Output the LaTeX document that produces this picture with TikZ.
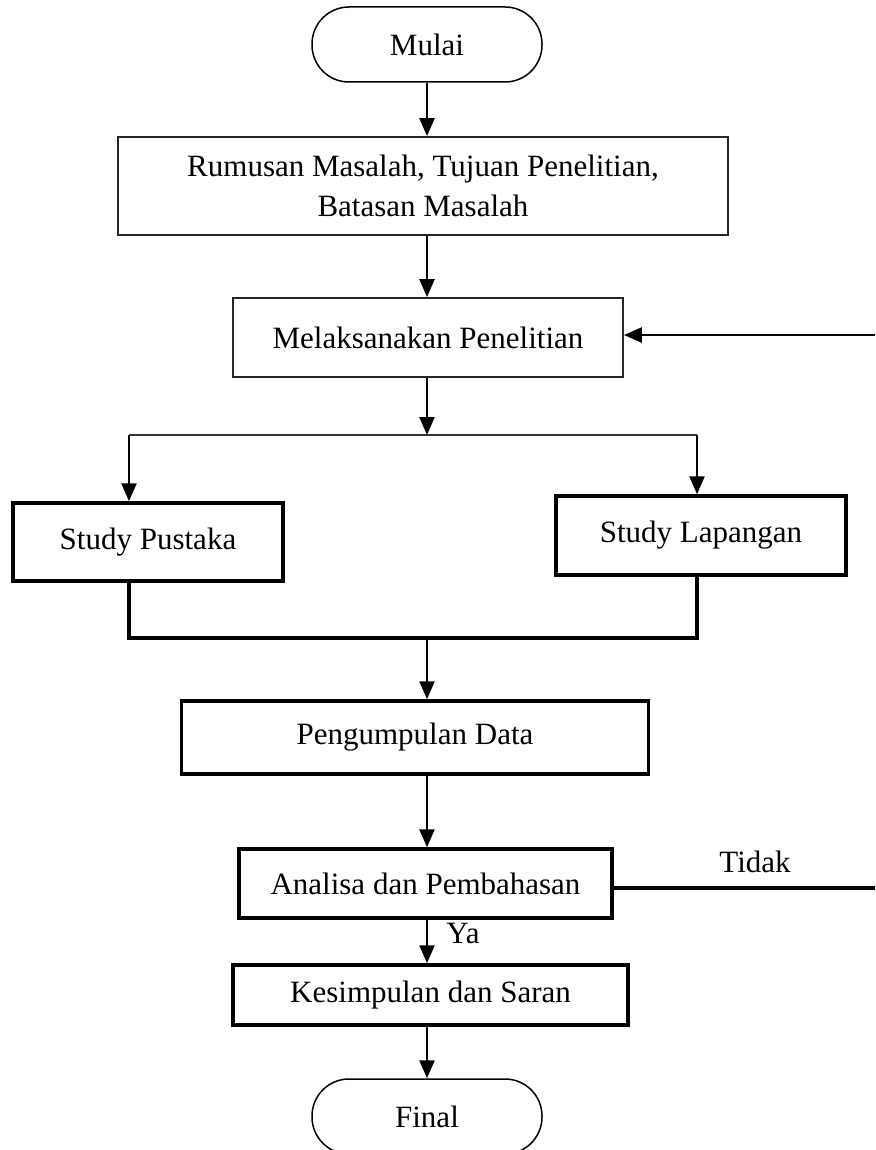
\documentclass[tikz,border=0pt]{standalone}
\usepackage{fontspec}
\setmainfont{Liberation Serif}
\usetikzlibrary{arrows.meta}
\begin{document}
\begin{tikzpicture}[x=1pt,y=-1pt,
  every node/.style={font=\fontsize{31}{40}\selectfont},
  thinbox/.style={draw=black!85, line width=1.8pt, inner sep=0pt, align=center},
  thickbox/.style={draw, line width=3.5pt, inner sep=0pt, align=center},
  term/.style={draw, line width=1.5pt, rounded corners=37pt, inner sep=0pt, minimum width=230pt, minimum height=75pt},
  conn/.style={line width=2.4pt},
  thinconn/.style={line width=1.8pt, draw=black!80},
  thickconn/.style={line width=3.2pt},
  arr/.style={conn, -{Triangle[length=18pt,width=15pt]}},
  lbl/.style={inner sep=0pt}
]
\useasboundingbox (0,0) rectangle (875,1150);
\node[term] (start) at (427,44.5) {Mulai};
\node[thinbox, minimum width=610pt, minimum height=98pt] (rumusan) at (423,186) {Rumusan Masalah, Tujuan Penelitian,\\Batasan Masalah};
\node[thinbox, minimum width=390pt, minimum height=79pt] (melak) at (428,337.5) {Melaksanakan Penelitian};
\node[thickbox, minimum width=270pt, minimum height=78pt] (pustaka) at (148,542) {Study Pustaka};
\node[thickbox, minimum width=290pt, minimum height=79pt] (lapangan) at (701,535.5) {Study Lapangan};
\node[thickbox, minimum width=467pt, minimum height=73pt] (kumpul) at (415,737.5) {Pengumpulan Data};
\node[thickbox, minimum width=373pt, minimum height=69pt] (analisa) at (425.5,883.5) {Analisa dan Pembahasan};
\node[thickbox, minimum width=395pt, minimum height=60pt] (simpul) at (430.5,995) {Kesimpulan dan Saran};
\node[term] (final) at (427,1116.5) {Final};

\coordinate (j1) at (427,435);
\coordinate (jl) at (129,435);
\coordinate (jr) at (697,435);
\coordinate (bl) at (129,638);
\coordinate (br) at (697,638);
\coordinate (bm) at (427,638);
\coordinate (fb) at (875,335);
\coordinate (td) at (875,888);

\draw[arr] (start.south) -- (start.south |- rumusan.north);
\draw[arr] (start.south |- rumusan.south) -- (start.south |- melak.north);
\draw[arr] (start.south |- melak.south) -- (j1);
\draw[thinconn] (jl) -- (jr);
\draw[arr] (jl) -- (jl |- pustaka.north);
\draw[arr] (jr) -- (jr |- lapangan.north);
\draw[thickconn] (bl |- pustaka.south) -- (bl) -- (br) -- (br |- lapangan.south);
\draw[arr] (bm) -- (bm |- kumpul.north);
\draw[arr] (bm |- kumpul.south) -- (bm |- analisa.north);
\draw[arr] (bm |- analisa.south) -- (bm |- simpul.north);
\draw[arr] (bm |- simpul.south) -- (bm |- final.north);
\draw[arr] (fb) -- (fb -| melak.east);
\draw[thickconn] (analisa.east |- td) -- (td);
\node[lbl] (tidak) at (755,862) {Tidak};
\node[lbl] (ya) at (463,933) {Ya};
\end{tikzpicture}
\end{document}
